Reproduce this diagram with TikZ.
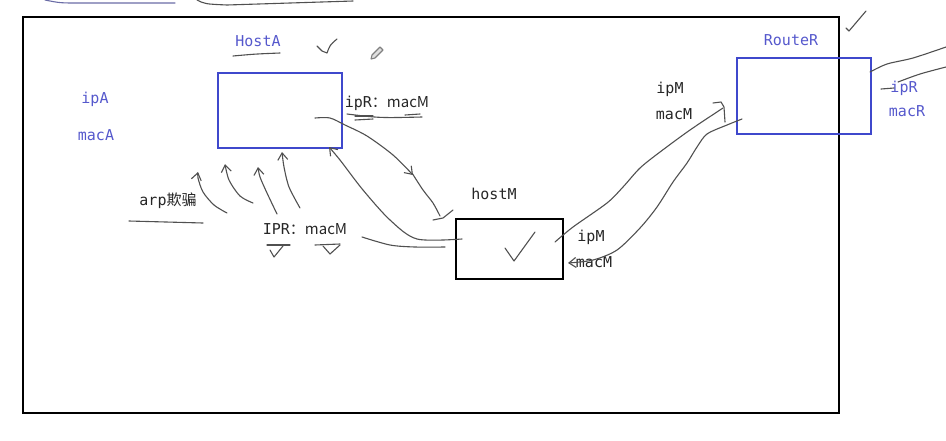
\documentclass[tikz,border=0pt]{standalone}
\usepackage{fontspec}
\setmainfont{DejaVu Sans Mono}
\newfontfamily\cjk{Noto Sans CJK SC}
\usetikzlibrary{arrows.meta}
\definecolor{penblue}{HTML}{3F48CC}
\definecolor{txtblue}{HTML}{5558CC}
\definecolor{pen}{HTML}{505050}
\begin{document}
\begin{tikzpicture}[x=0.5pt,y=-0.5pt,
  lbl/.style={font=\fontsize{7.5}{9}\selectfont, inner sep=0},
  blu/.style={lbl,text=txtblue},
  blk/.style={lbl,text=black!85},
  stroke/.style={draw=pen,line width=0.55pt,line cap=round,line join=round},
  tip/.style={-{Straight Barb[length=3.5pt,width=5pt]}},
  bluebox/.style={draw=penblue,line width=1.1pt,inner sep=0,anchor=north west},
  blackbox/.style={draw=black,line width=1.1pt,inner sep=0,anchor=north west}]
\useasboundingbox (0,0) rectangle (946,440);
% outer frame
\node[blackbox,line width=1.2pt,minimum width=408pt,minimum height=198pt] (frame) at (22,16) {};
% boxes
\node[bluebox,minimum width=62pt,minimum height=37.5pt] (hostA) at (217,72) {};
\node[bluebox,minimum width=67pt,minimum height=38pt] (routeR) at (736,57) {};
\node[blackbox,minimum width=53.5pt,minimum height=30pt] (hostM) at (455,218) {};
% labels
\node[blu] (tHostA) at (258,41) {HostA};
\node[blu] (tipA) at (95,99) {ipA};
\node[blu] (tmacA) at (96,135) {macA};
\node[blk] (tipRmacM) at (387,103) {ipR\cjk{：}macM};
\node[blu] (tRouteR) at (791,40) {RouteR};
\node[blu] (tipR) at (904,88) {ipR};
\node[blu] (tmacR) at (907,111) {macR};
\node[blk] (tipM1) at (670,89) {ipM};
\node[blk] (tmacM1) at (674,114) {macM};
\node[blk] (thostM) at (494,194) {hostM};
\node[blk] (tipM2) at (591,237) {ipM};
\node[blk] (tmacM2) at (594,262) {macM};
\node[blk] (tarp) at (168,201) {arp\cjk{欺骗}};
\node[blk] (tIPR) at (305,229) {IPR\cjk{：}macM};
% top scribbles
\draw[stroke,draw=txtblue!50!gray] (45,0) .. controls (60,3) .. (80,3) -- (175,3);
\draw[stroke] (197,0) .. controls (205,4) .. (227,5) -- (353,1);
% underlines
\draw[stroke] (233,56) .. controls (255,54) .. (280,53);
\draw[stroke] (347,114) .. controls (380,118) .. (422,117);
\draw[stroke] (355,116) -- (373,116);
\draw[stroke] (355,120) -- (373,119);
\draw[stroke] (405,115) -- (420,114);
\draw[stroke] (129,221) -- (203,223);
\draw[stroke] (267,245) -- (290,245);
\draw[stroke] (315,245) -- (340,244);
% check marks
\draw[stroke] (317,46) -- (322,51) -- (327,53) .. controls (330,45) .. (337,39);
\draw[stroke] (846,28) -- (849,31) -- (866,11);
\draw[stroke] (505,248) -- (514,261) -- (535,232);
\draw[stroke] (270,250) -- (274,257) -- (283,246);
\draw[stroke] (323,246) -- (330,254) -- (340,245);
% pencil
\draw[stroke,draw=gray,fill=gray!25] (371,59) -- (372,55) -- (380,47) -- (383,50) -- (375,58) -- cycle;
% arp arrows
\draw[stroke,tip] plot[smooth] coordinates {(227,213) (214,205) (203,192) (198,178) (198,172)};
\draw[stroke,tip] plot[smooth] coordinates {(253,203) (240,196) (229,180) (225,164)};
\draw[stroke,tip] plot[smooth] coordinates {(277,214) (267,193) (260,177) (258,167)};
\draw[stroke,tip] plot[smooth] coordinates {(300,208) (289,187) (284,167) (282,152)};
% hostM -> HostA
\draw[stroke,tip] plot[smooth] coordinates {(462,239) (417,239) (390,220) (363,190) (340,160) (329,147)};
\draw[stroke] plot[smooth] coordinates {(362,237) (390,245) (415,247) (445,247)};
% HostA -> hostM
\draw[stroke,tip] plot[smooth] coordinates {(315,118) (330,118) (345,125) (367,136) (393,155) (413,175)};
\draw[stroke] plot[smooth] coordinates {(412,173) (423,190) (433,203) (440,216)};
\draw[stroke] (433,220) -- (443,218) -- (453,210);
% hostM -> RouteR
\draw[stroke] plot[smooth] coordinates {(555,242) (573,227) (607,203) (623,187) (640,168) (660,152) (690,130) (723,108)};
\draw[stroke] (713,103) -- (721,102) -- (724,107) -- (725,122);
% RouteR -> hostM
\draw[stroke,tip] plot[smooth] coordinates {(742,119) (727,125) (707,134) (697,147) (687,163) (673,182) (657,207) (640,228) (617,250) (593,260) (568,263)};
% RouteR right lines
\draw[stroke] plot[smooth] coordinates {(870,72) (887,64) (913,58) (946,47)};
\draw[stroke] (881,89) -- (894,88);
\draw[stroke] plot[smooth] coordinates {(898,82) (920,74) (946,67)};
\end{tikzpicture}
\end{document}
